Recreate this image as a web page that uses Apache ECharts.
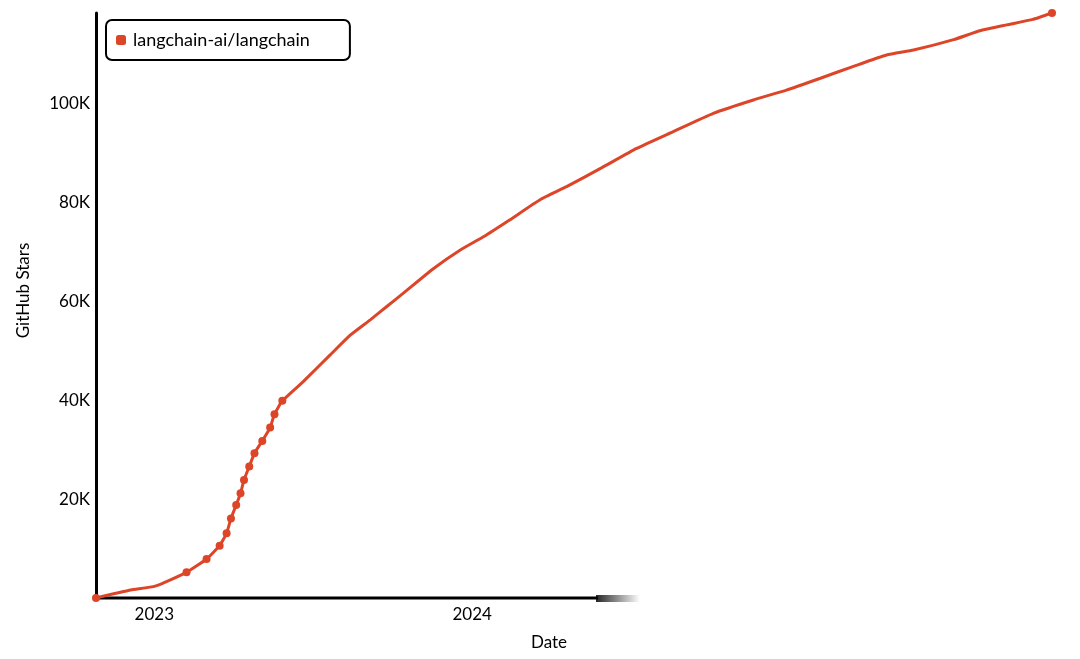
<!DOCTYPE html>
<html>
<head>
<meta charset="utf-8">
<script src="https://cdn.jsdelivr.net/npm/echarts@6/dist/echarts.min.js"></script>
<style>
html,body{margin:0;padding:0;background:#fff;}
#chart{width:1080px;height:659px;}
</style>
</head>
<body>
<div id="chart"></div>
<script>
// ---- data ----
var seriesName = 'langchain-ai/langchain';
var dates = [
  '2022-10-26','2022-12-05','2023-01-02','2023-02-07','2023-03-02','2023-03-17','2023-03-25',
  '2023-03-30','2023-04-05','2023-04-10','2023-04-14','2023-04-20','2023-04-26','2023-05-05',
  '2023-05-14','2023-05-19','2023-05-28','2023-06-21','2023-07-22','2023-08-14','2023-09-06',
  '2023-09-25','2023-10-14','2023-11-17','2023-12-18','2024-01-14','2024-02-13',
  '2024-03-19','2024-04-19','2024-05-28','2024-07-08','2024-08-19','2024-10-04','2024-11-19',
  '2024-12-27','2025-02-04','2025-03-14','2025-04-21','2025-05-22','2025-07-07','2025-08-06',
  '2025-09-06','2025-10-06','2025-10-28'
];
var stars = [
  0, 1600, 2400, 5200, 7900, 10600, 13100,
  16100, 18800, 21200, 23900, 26600, 29300, 31800,
  34500, 37200, 39900, 43800, 49200, 53200, 56300,
  59000, 61700, 66600, 70400, 73100, 76500,
  80600, 83300, 87000, 91000, 94400, 98100, 100800,
  102800, 105200, 107600, 109900, 110900, 113000, 114800,
  116000, 117100, 118400
];
var marked = [
  1, 0, 0, 1, 1, 1, 1,
  1, 1, 1, 1, 1, 1, 1,
  1, 1, 1, 0, 0, 0, 0,
  0, 0, 0, 0, 0, 0,
  0, 0, 0, 0, 0, 0, 0,
  0, 0, 0, 0, 0, 0, 0,
  0, 0, 1
];
var xTickDates = ['2023-01-01', '2024-01-01'];
var xTickLabels = ['2023', '2024'];
var yMax = 118400;
var yInterval = 20000;

// ---- chart ----
var FONT = 'Lato';
var RED = '#dd4528';
var chart = echarts.init(document.getElementById('chart'), null, {renderer: 'canvas'});

var seriesData = dates.map(function (d, i) {
  var item = {value: [d, stars[i]]};
  if (!marked[i]) item.symbol = 'none';
  return item;
});

function localTime(s) {
  var p = s.split('-');
  return new Date(+p[0], +p[1] - 1, +p[2]).getTime();
}
var tickMap = {};
xTickDates.forEach(function (d, i) { tickMap[localTime(d)] = xTickLabels[i]; });

chart.setOption({
  animation: false,
  backgroundColor: '#fff',
  textStyle: {fontFamily: FONT},
  grid: {left: 96, right: 28, top: 13, bottom: 61, containLabel: false},
  legend: {
    left: 106, top: 20,
    orient: 'vertical',
    padding: [11, 40, 11, 10],
    backgroundColor: '#fff',
    borderColor: '#000', borderWidth: 2, borderRadius: 6,
    icon: 'roundRect', itemWidth: 10, itemHeight: 10, itemGap: 7,
    textStyle: {fontFamily: FONT, fontSize: 18, color: '#000', padding: [0, 0, 0, 2]},
    data: [seriesName]
  },
  xAxis: {
    type: 'time',
    min: dates[0], max: dates[dates.length - 1],
    name: 'Date', nameLocation: 'middle', nameGap: 36,
    nameTextStyle: {fontFamily: FONT, fontSize: 17, color: '#000', padding: [0, 50, 0, 0]},
    axisLine: {show: false},
    axisTick: {show: false},
    splitLine: {show: false},
    axisLabel: {
      fontFamily: FONT, fontSize: 17, color: '#000', margin: 8, hideOverlap: false,
      formatter: function (v) {
        return tickMap[v] || '';
      }
    }
  },
  yAxis: {
    type: 'value', min: 0, max: yMax, interval: yInterval,
    name: 'GitHub Stars', nameLocation: 'middle', nameGap: 64,
    nameTextStyle: {fontFamily: FONT, fontSize: 17, color: '#000', padding: [0, 0, 0, 30]},
    axisLine: {show: true, lineStyle: {color: '#000', width: 3}},
    axisTick: {show: false},
    splitLine: {show: false},
    axisLabel: {
      fontFamily: FONT, fontSize: 17, color: '#000', margin: 6,
      showMaxLabel: false, showMinLabel: false,
      formatter: function (v) { return (v === 0 || v % yInterval !== 0) ? '' : (v / 1000) + 'K'; }
    }
  },
  graphic: [
    {type: 'line', shape: {x1: 96, y1: 598, x2: 598, y2: 598}, style: {stroke: '#000', lineWidth: 3}, z: 50},
    {type: 'rect', shape: {x: 596, y: 595, width: 44, height: 7},
      style: {fill: new echarts.graphic.LinearGradient(0, 0, 1, 0, [
        {offset: 0, color: 'rgba(0,0,0,0.85)'}, {offset: 1, color: 'rgba(0,0,0,0)'}])}, z: 50}
  ],
  series: [{
    name: seriesName,
    type: 'line',
    data: seriesData,
    smooth: 0.15,
    symbol: 'circle', symbolSize: 8, showSymbol: true,
    lineStyle: {color: RED, width: 3},
    itemStyle: {color: RED},
    z: 100
  }]
});
</script>
</body>
</html>
